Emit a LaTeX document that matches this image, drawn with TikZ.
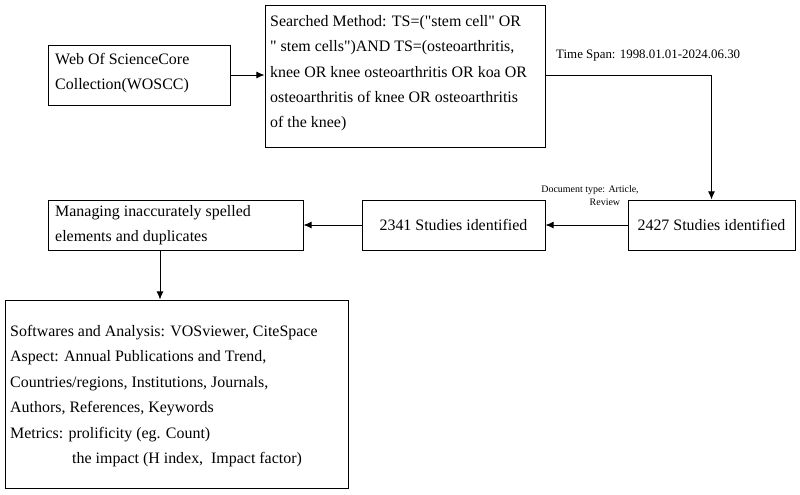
\documentclass[tikz,border=0pt]{standalone}
\usepackage{fontspec}
\setmainfont[Ligatures=TeXOff]{Liberation Serif}
\usetikzlibrary{arrows.meta}
\begin{document}
\begin{tikzpicture}[x=0.03cm,y=-0.03cm,
  box/.style={draw,line width=0.8pt,inner sep=0pt},
  txt/.style={font=\fontsize{13.6}{21.7}\selectfont,align=left,inner sep=0pt,anchor=north west},
  arr/.style={-{Latex[length=7pt,width=6pt]},line width=0.8pt}]
\useasboundingbox (0,0) rectangle (800,494);
% boxes
\node (wos) [box,minimum width=182*0.03cm,minimum height=60*0.03cm] at (139,75) {};
\node[txt] at (55,53) {Web Of ScienceCore\\Collection(WOSCC)};

\node (srch) [box,minimum width=280*0.03cm,minimum height=142*0.03cm] at (405,76) {};
\node[txt] at (270,15) {Searched Method: TS=("stem cell" OR\\" stem cells")AND TS=(osteoarthritis,\\knee OR knee osteoarthritis OR koa OR\\osteoarthritis of knee OR osteoarthritis\\of the knee)};

\node (t2427) [box,minimum width=167*0.03cm,minimum height=50*0.03cm,font=\fontsize{13.6}{16}\selectfont] at (711.5,225) {2427 Studies identified};
\node (t2341) [box,minimum width=183*0.03cm,minimum height=50*0.03cm,font=\fontsize{13.6}{16}\selectfont] at (453.5,225) {2341 Studies identified};
\node (mng) [box,minimum width=255*0.03cm,minimum height=50*0.03cm] at (175.5,225) {};
\node[txt] at (55,205) {Managing inaccurately spelled\\elements and duplicates};

\node (res) [box,minimum width=343*0.03cm,minimum height=188*0.03cm] at (176.5,394) {};
\node[txt] at (10,325) {Softwares and Analysis: VOSviewer, CiteSpace\\Aspect: Annual Publications and Trend,\\Countries/regions, Institutions, Journals,\\Authors, References, Keywords\\Metrics: prolificity (eg. Count)\\\hspace{1.86cm}the impact (H index,\ \ Impact factor)};

% labels
\node (ts) [anchor=west,inner sep=0pt,font=\fontsize{11}{13}\selectfont] at (556,56) {Time Span: 1998.01.01-2024.06.30};
\node (dt) [align=center,inner sep=0pt,font=\fontsize{8.5}{11}\selectfont] at (590,196) {Document type: Article,\\\hspace{3em}Review};

% connectors
\draw[arr] (wos.east) -- (srch.west |- wos.east);
\draw[arr] (srch.east |- wos.east) -| (t2427.north);
\draw[arr] (t2427.west) -- (t2341.east);
\draw[arr] (t2341.west) -- (mng.east);
\draw[arr] (mng.south -| 160,0) -- (res.north -| 160,0);
\end{tikzpicture}
\end{document}
